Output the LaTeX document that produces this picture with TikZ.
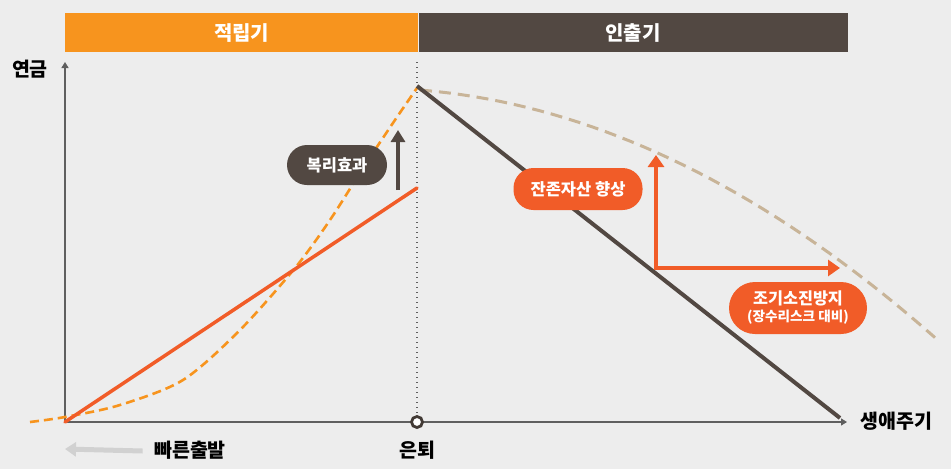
\documentclass[tikz,border=0pt]{standalone}
\usepackage{fontspec}
\setmainfont{Noto Sans CJK KR}
\usetikzlibrary{positioning,calc,arrows.meta}
\definecolor{bgray}{RGB}{237,237,237}
\definecolor{korange}{RGB}{247,148,30}
\definecolor{kred}{RGB}{241,92,40}
\definecolor{kbrown}{RGB}{82,72,66}
\definecolor{ktan}{RGB}{200,180,152}
\definecolor{kaxis}{RGB}{95,95,95}
\begin{document}
\begin{tikzpicture}[x=1pt,y=-1pt,
  bar/.style={minimum height=39pt,inner sep=0pt,text=white,font=\bfseries\fontsize{20}{24}\selectfont},
  pill/.style={rounded corners=20pt,text=white,inner sep=0pt,align=center,font=\bfseries\fontsize{16.5}{20}\selectfont},
  lbl/.style={font=\bfseries\fontsize{19.5}{23}\selectfont,text=black}]
\fill[bgray] (0,0) rectangle (951,469);
% phase bars
\node[bar,fill=korange,minimum width=353pt,anchor=north west](accum) at (65,13){적립기};
\node[bar,fill=kbrown,minimum width=429pt,anchor=north west](payout) at (accum.north east){인출기};
% axes
\coordinate(origin) at (65,422);
\coordinate(ytop) at (65,62);
\coordinate(xend) at (847,422);
\coordinate(retire) at (417,422);
\draw[kaxis,line width=1.3pt,-{Triangle[length=6pt,width=7pt]}] (origin) -- (ytop);
\draw[kaxis,line width=1.3pt,-{Triangle[length=6pt,width=7pt]}] (origin) -- (xend);
\node[lbl](yl) at (30,69){연금};
\node[lbl,anchor=west](xl) at (857,421){생애주기};
\draw[kaxis,line width=1.4pt,dash pattern=on 1.4pt off 3.6pt] (417,62) -- (retire);
% compound growth
\draw[korange,line width=2.6pt,dash pattern=on 9pt off 5pt] plot[smooth] coordinates
  {(30,422) (65,417) (120,405) (183,380) (240,330) (295,268) (330,220) (365,165) (395,120) (417,88)};
\draw[kred,line width=3.5pt,line cap=round] (origin) -- (417,188);
\draw[kbrown,line width=4.5pt,-{Triangle[length=12pt,width=14pt]}] (398,190) -- (398,130);
\node[pill,fill=kbrown,minimum width=100pt,minimum height=40pt](compound) at (337,165){복리효과};
% payout phase
\draw[ktan,line width=3pt,dash pattern=on 12pt off 7pt,domain=420:935,samples=40] plot (\x,{90+0.08*(\x-420)+0.000777*(\x-420)*(\x-420)});
\draw[kbrown,line width=4pt] (417,86) -- (840,418);
\coordinate(corner) at (656,268);
\draw[kred,line width=4pt,-{Triangle[length=12pt,width=16pt]}] (corner) -- (656,155);
\draw[kred,line width=4pt,-{Triangle[length=12pt,width=16pt]}] ([xshift=-2pt]corner) -- (840,268);
\node[pill,fill=kred,minimum width=129pt,minimum height=42pt](remain) at (578,189){잔존자산 향상};
\node[pill,fill=kred,minimum width=138pt,minimum height=52pt,rounded corners=26pt](early) at (798,308)
  {{\fontsize{16.3}{19}\selectfont 조기소진방지}\\[-3pt]{\fontsize{13.6}{16}\selectfont (장수리스크 대비)}};
% retirement marker and labels
\filldraw[fill=white,draw=kbrown!80!black,line width=2.8pt] (retire) circle (5.5pt);
\node[lbl](rl) at (417,450){은퇴};
\node[lbl](fast) at (190,450){빠른출발};
\draw[black!18,line width=5pt,-{Triangle[length=11pt,width=14pt]}] (fast.west) ++(-8pt,-1pt) -- (65,449);
\end{tikzpicture}
\end{document}
